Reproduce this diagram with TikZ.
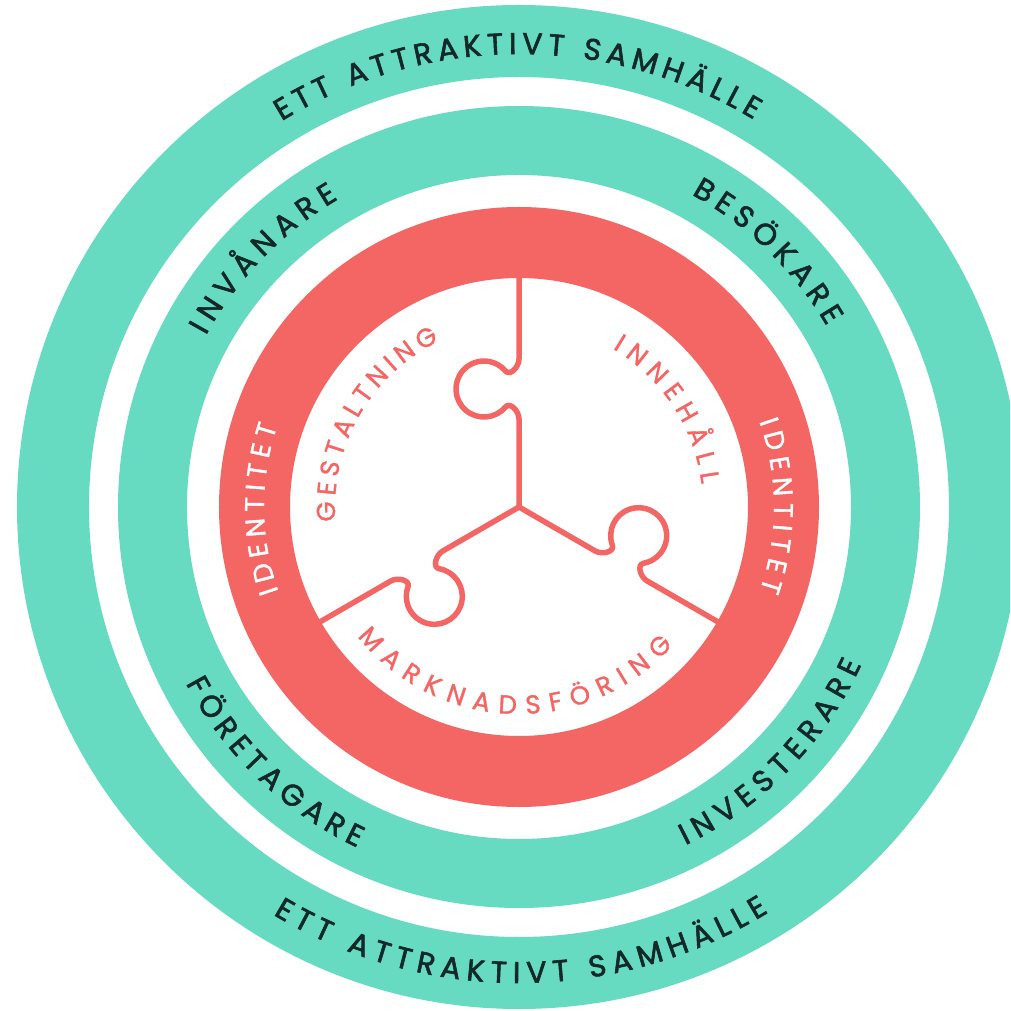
\documentclass[tikz,border=0pt]{standalone}
\usepackage{fontspec}
\setmainfont{Poppins}
\newfontfamily\darkfont{Poppins}[FakeBold=2]
\newfontfamily\midfont{Poppins}[FakeBold=1.4]
\usetikzlibrary{decorations.text}
\definecolor{ringteal}{HTML}{66DBC1}
\definecolor{ringred}{HTML}{F46664}
\definecolor{darktext}{HTML}{132828}
\newcommand\ftOuter{\darkfont\fontsize{30}{36}\selectfont}
\newcommand\ftRed{\midfont\fontsize{27}{30}\selectfont}
\newcommand\ftInner{\midfont\fontsize{26}{30}\selectfont}
% #1 colour, #2 font, #3 radius, #4 start angle, #5 end angle, #6 text
\newcommand\arctext[6]{%
  \path[decorate, decoration={text along path, text color=#1,
      text align={fit to path}, text={|#2|#6}}]
    (#4:#3) arc[start angle=#4, end angle=#5, radius=#3];}
\tikzset{
  puzzleline/.style={draw=ringred, line width=5.5pt, line cap=round, line join=round}
}
\begin{document}
\begin{tikzpicture}
\useasboundingbox (-519pt,-504pt) rectangle (491pt,507pt);
\clip (-519pt,-504pt) rectangle (491pt,507pt);
\fill[white] (-519pt,-504pt) rectangle (491pt,507pt);
% rings
\fill[ringteal, even odd rule] (0,0) circle[radius=502pt] (0,0) circle[radius=430pt];
\fill[ringteal, even odd rule] (0,0) circle[radius=401pt] (0,0) circle[radius=332pt];
% puzzle
\foreach \a in {90,210,330}{
  \draw[puzzleline, rotate=\a] (0,0) -- (88pt,0)
    .. controls (96pt,0) and (105.4pt,9.05pt) .. (100pt,13.55pt)
    arc[start angle=-130, end angle=-410, radius=28pt]
    .. controls (130.6pt,9.05pt) and (140pt,0) .. (148pt,0) -- (232pt,0);
}
\fill[ringred, even odd rule] (0,0) circle[radius=300pt] (0,0) circle[radius=229pt];
% outer ring texts
\arctext{darktext}{\ftOuter}{453pt}{121.6}{58.8}{ETT ATTRAKTIVT SAMHÄLLE}
\arctext{darktext}{\ftOuter}{476pt}{238.9}{301.6}{ETT ATTRAKTIVT SAMHÄLLE}
% second ring texts
\arctext{darktext}{\ftOuter}{357pt}{151.3}{120.4}{INVÅNARE}
\arctext{darktext}{\ftOuter}{357pt}{61.1}{30.45}{BESÖKARE}
\arctext{darktext}{\ftOuter}{377pt}{207.9}{244.6}{FÖRETAGARE}
\arctext{darktext}{\ftOuter}{377pt}{296.2}{335.3}{INVESTERARE}
% red ring texts
\arctext{white}{\ftRed}{255pt}{199.35}{161.5}{IDENTITET}
\arctext{white}{\ftRed}{255pt}{19.6}{-19.1}{IDENTITET}
% inner texts
\arctext{ringred}{\ftInner}{184pt}{184.5}{115.7}{GESTALTNING}
\arctext{ringred}{\ftInner}{184pt}{59.4}{7.15}{INNEHÅLL}
\arctext{ringred}{\ftInner}{207pt}{218.7}{318.1}{MARKNADSFÖRING}
\end{tikzpicture}
\end{document}
